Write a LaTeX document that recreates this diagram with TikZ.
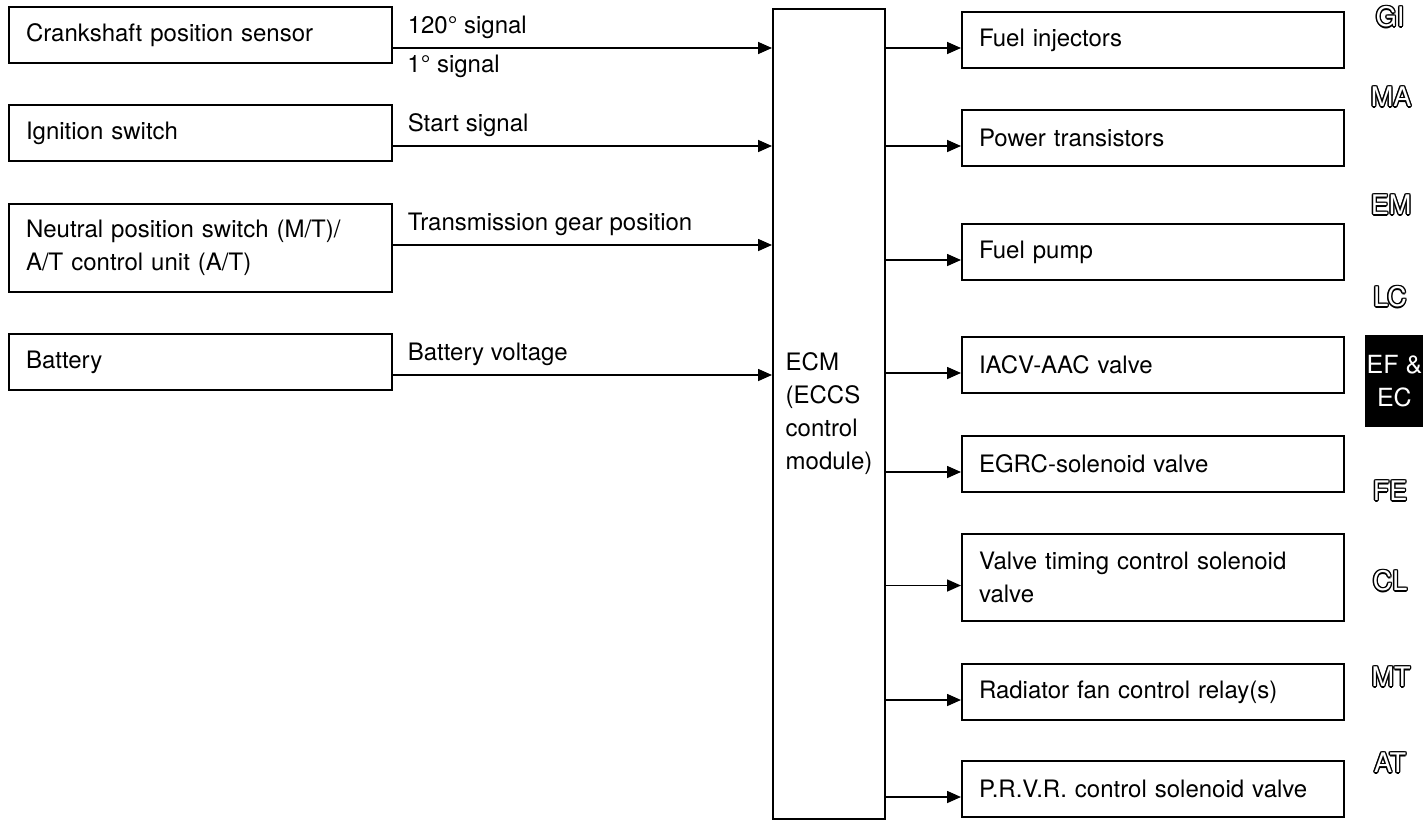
\documentclass[tikz,border=0pt]{standalone}
\usepackage{fontspec}
\setmainfont{TeX Gyre Heros}
\usetikzlibrary{positioning,arrows.meta}

% hollow lettering for the section tabs
\newcommand\hollow[1]{%
  \rlap{\kern.7pt#1}\rlap{\kern-.7pt#1}%
  \rlap{\raisebox{.7pt}{#1}}\rlap{\raisebox{-.7pt}{#1}}%
  \rlap{\kern.5pt\raisebox{.5pt}{#1}}\rlap{\kern-.5pt\raisebox{.5pt}{#1}}%
  \rlap{\kern.5pt\raisebox{-.5pt}{#1}}\rlap{\kern-.5pt\raisebox{-.5pt}{#1}}%
  \textcolor{white}{#1}}

\tikzset{
  unit/.style={draw, line width=1pt, anchor=north west, minimum height=28pt,
    inner xsep=8.5pt, align=left},
  inbox/.style={unit, minimum width=191.5pt, text width=174.5pt},
  outbox/.style={unit, minimum width=191pt, text width=174pt},
  sig/.style={line width=0.8pt, -{Triangle[length=7pt,width=6pt]}},
  siglabel/.style={anchor=base west, inner sep=0pt, xshift=7pt, yshift=7.5pt},
  underlabel/.style={anchor=base west, inner sep=0pt, xshift=7pt, yshift=-12pt},
  tabmark/.style={inner sep=0pt, font=\fontsize{13.5}{16}\selectfont},
}

\begin{document}
\begin{tikzpicture}[x=0.5pt, y=-0.5pt, font=\fontsize{12}{16.5}\selectfont]
  \useasboundingbox (0,0) rectangle (1423,819);
  \fill[white] (0,0) rectangle (1423,819);

  % inputs
  \node[inbox] (crank) at (8,6) {Crankshaft position sensor};
  \node[inbox] (ign) at (8,104) {Ignition switch};
  \node[inbox, minimum height=44pt] (nps) at (8,203)
    {Neutral position switch (M/T)/\\A/T control unit (A/T)};
  \node[inbox] (batt) at (8,333) {Battery};

  % control unit
  \node[draw, line width=1pt, anchor=north west, minimum width=56pt,
    minimum height=405pt, align=left] (ecm) at (772,8)
    {ECM\\(ECCS\\control\\module)};

  % outputs
  \node[outbox] (inj) at (961,11) {Fuel injectors};
  \node[outbox] (ptr) at (961,109) {Power transistors};
  \node[outbox] (pump) at (961,223) {Fuel pump};
  \node[outbox] (iacv) at (961,336) {IACV-AAC valve};
  \node[outbox] (egrc) at (961,435) {EGRC-solenoid valve};
  \node[outbox, minimum height=43.5pt] (vtc) at (961,533)
    {Valve timing control solenoid\\valve};
  \node[outbox] (fan) at (961,663) {Radiator fan control relay(s)};
  \node[outbox] (prvr) at (961,760) {P.R.V.R. control solenoid valve};

  % signals into the ECM
  \foreach \n/\t in {crank/120° signal, ign/Start signal,
      nps/Transmission gear position, batt/Battery voltage} {
    \path ([yshift=-21pt]\n.north east) coordinate (\n-out);
    \draw[sig] (\n-out) node[siglabel] (\n-lbl) {\t} -- (\n-out -| ecm.west);
  }
  \node[underlabel] (crank-lbl2) at (crank-out) {1° signal};

  % ECM outputs
  \foreach \n in {inj,ptr,pump,iacv,egrc,vtc,fan,prvr} {
    \path ([yshift=-4pt]\n.west) coordinate (\n-in);
    \draw[sig] (ecm.east |- \n-in) -- (\n-in);
  }

  % section tabs
  \node[tabmark] (tab-gi) at (1390,17) {\hollow{GI}};
  \node[tabmark] (tab-ma) at (1391,97) {\hollow{MA}};
  \node[tabmark] (tab-em) at (1391,205) {\hollow{EM}};
  \node[tabmark] (tab-lc) at (1390,297) {\hollow{LC}};
  \node[fill=black, text=white, anchor=north west, minimum width=29pt,
    minimum height=46pt, inner sep=0pt, align=center,
    font=\fontsize{12.5}{16.5}\selectfont] (tab-ef) at (1365,335) {EF \&\\EC};
  \node[tabmark] (tab-fe) at (1390,491) {\hollow{FE}};
  \node[tabmark] (tab-cl) at (1390,581) {\hollow{CL}};
  \node[tabmark] (tab-mt) at (1391,677) {\hollow{MT}};
  \node[tabmark] (tab-at) at (1390,763) {\hollow{AT}};
\end{tikzpicture}
\end{document}
